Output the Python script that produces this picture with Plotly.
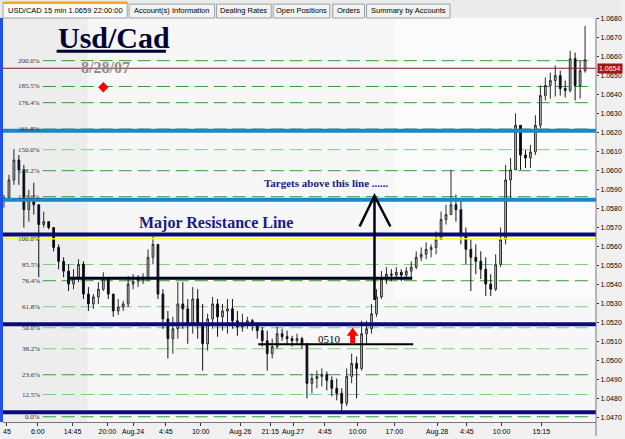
import plotly.graph_objects as go

# ---------------- data ----------------
first_open = 1.05846
high = [
    1.05873, 1.05978, 1.06114, 1.06082, 1.06030, 1.05899, 1.05936, 1.05820, 1.05784, 1.05731,
    1.05663, 1.05611, 1.05543, 1.05506, 1.05480, 1.05533, 1.05522, 1.05386, 1.05349, 1.05412,
    1.05464, 1.05438, 1.05349, 1.05323, 1.05313, 1.05444, 1.05454, 1.05449, 1.05459, 1.05585,
    1.05653, 1.05506, 1.05375, 1.05260, 1.05229, 1.05412, 1.05412, 1.05323, 1.05386, 1.05375,
    1.05297, 1.05245, 1.05334, 1.05323, 1.05297, 1.05323, 1.05323, 1.05260, 1.05245, 1.05229,
    1.05218, 1.05187, 1.05176, 1.05156, 1.05114, 1.05176, 1.05166, 1.05156, 1.05129, 1.05140,
    1.05124, 1.05087, 1.04930, 1.04946, 1.04957, 1.04941, 1.04915, 1.04904, 1.04852, 1.04957,
    1.05035, 1.05019, 1.05208, 1.05208, 1.05297, 1.05375, 1.05470, 1.05491, 1.05480, 1.05491,
    1.05480, 1.05491, 1.05522, 1.05574, 1.05595, 1.05622, 1.05611, 1.05679, 1.05784, 1.05820,
    1.06004, 1.05873, 1.05846, 1.05700, 1.05637, 1.05611, 1.05574, 1.05543, 1.05454, 1.05559,
    1.05700, 1.06030, 1.06067, 1.06302, 1.06213, 1.06108, 1.06135, 1.06292, 1.06449, 1.06491,
    1.06517, 1.06554, 1.06527, 1.06475, 1.06632, 1.06622, 1.06580, 1.06763]
low = [
    1.05805, 1.05846, 1.05925, 1.05925, 1.05700, 1.05731, 1.05768, 1.05438, 1.05700, 1.05690,
    1.05574, 1.05480, 1.05438, 1.05365, 1.05375, 1.05412, 1.05323, 1.05260, 1.05271, 1.05297,
    1.05365, 1.05323, 1.05229, 1.05239, 1.05260, 1.05281, 1.05375, 1.05386, 1.05402, 1.05417,
    1.05506, 1.05323, 1.05166, 1.05009, 1.05035, 1.05114, 1.05166, 1.05087, 1.05140, 1.05114,
    1.04946, 1.05051, 1.05166, 1.05124, 1.05156, 1.05140, 1.05166, 1.05129, 1.05150, 1.05166,
    1.05156, 1.05114, 1.05072, 1.04946, 1.05009, 1.05061, 1.05103, 1.05082, 1.05072, 1.05087,
    1.05061, 1.04799, 1.04826, 1.04852, 1.04862, 1.04841, 1.04810, 1.04789, 1.04716, 1.04758,
    1.04878, 1.04799, 1.04946, 1.05087, 1.05140, 1.05229, 1.05323, 1.05402, 1.05417, 1.05428,
    1.05417, 1.05428, 1.05438, 1.05480, 1.05522, 1.05533, 1.05543, 1.05559, 1.05637, 1.05716,
    1.05768, 1.05731, 1.05611, 1.05506, 1.05365, 1.05454, 1.05428, 1.05339, 1.05339, 1.05365,
    1.05491, 1.05611, 1.05846, 1.06046, 1.06004, 1.06014, 1.06014, 1.06082, 1.06224, 1.06370,
    1.06380, 1.06391, 1.06396, 1.06386, 1.06412, 1.06370, 1.06380, 1.06517]
close = [
    1.05857, 1.05951, 1.06056, 1.06004, 1.05794, 1.05846, 1.05820, 1.05716, 1.05731, 1.05700,
    1.05595, 1.05522, 1.05470, 1.05402, 1.05438, 1.05506, 1.05349, 1.05297, 1.05334, 1.05375,
    1.05428, 1.05349, 1.05260, 1.05281, 1.05297, 1.05402, 1.05417, 1.05428, 1.05438, 1.05543,
    1.05611, 1.05349, 1.05218, 1.05114, 1.05166, 1.05297, 1.05271, 1.05192, 1.05323, 1.05192,
    1.05087, 1.05218, 1.05297, 1.05229, 1.05260, 1.05271, 1.05208, 1.05176, 1.05192, 1.05208,
    1.05187, 1.05156, 1.05103, 1.05035, 1.05072, 1.05140, 1.05124, 1.05114, 1.05103, 1.05114,
    1.05087, 1.04878, 1.04904, 1.04915, 1.04925, 1.04894, 1.04852, 1.04826, 1.04773, 1.04915,
    1.04983, 1.04957, 1.05140, 1.05166, 1.05245, 1.05334, 1.05428, 1.05454, 1.05449, 1.05464,
    1.05449, 1.05470, 1.05491, 1.05543, 1.05559, 1.05585, 1.05595, 1.05637, 1.05742, 1.05768,
    1.05820, 1.05794, 1.05663, 1.05585, 1.05543, 1.05522, 1.05480, 1.05402, 1.05375, 1.05506,
    1.05637, 1.05951, 1.06004, 1.06239, 1.06082, 1.06067, 1.06098, 1.06239, 1.06396, 1.06449,
    1.06475, 1.06501, 1.06433, 1.06423, 1.06590, 1.06449, 1.06527, 1.06585]
bar_index = list(range(len(close)))

x_tick_labels = ["45", "6:00", "14:45", "20:00", "Aug.24", "4:45", "10:00", "Aug.26",
                 "21:15", "Aug.27", "4:45", "10:00", "17:00", "Aug.28", "4:45", "10:00", "15:15"]
x_tick_pos = [0.6, 6.8, 13.8, 20.8, 26.0, 32.6, 39.6, 47.6, 53.6, 58.2, 64.6, 71.2,
              78.6, 87.2, 93.2, 100.2, 108.2]

fib_labels = ["0.0%", "12.5%", "23.6%", "38.2%", "50.0%", "61.8%", "76.4%", "85.5%",
              "100.0%", "123.6%", "138.2%", "150.0%", "161.8%", "176.4%", "185.5%", "200.0%"]
fib_ratios = [0.0, 0.125, 0.236, 0.382, 0.5, 0.618, 0.764, 0.855,
              1.0, 1.236, 1.382, 1.5, 1.618, 1.764, 1.855, 2.0]
fib_dark = [True, False, True, False, False, False, True, False,
            False, True, True, False, False, True, True, True]
fib_low, fib_high = 1.04702, 1.05641

light_blue_levels = [1.06211, 1.05846]
navy_levels = [1.05663, 1.05190, 1.04726]
current_price = 1.0654
signal_index = [20]
signal_price = [1.0644]

open_ = [first_open] + close[:-1]
high_c = [max(h, o, c) for h, o, c in zip(high, open_, close)]
low_c = [min(l, o, c) for l, o, c in zip(low, open_, close)]

# ---------------- geometry helpers (pixels -> paper) ----------------
W, H = 625, 439
PL, PR, PT, PB = 3, 600, 18, 425
def px(x): return (x - PL) / (PR - PL)
def py(y): return (PB - y) / (PB - PT)

fig = go.Figure()
fig.add_trace(go.Candlestick(
    x=bar_index, open=open_, high=high_c, low=low_c, close=close,
    increasing=dict(line=dict(color="#2a2a2a", width=1), fillcolor="#cfcfcf"),
    decreasing=dict(line=dict(color="#111111", width=1), fillcolor="#000033"),
    whiskerwidth=0, showlegend=False, hoverinfo="skip"))
fig.add_trace(go.Scatter(x=signal_index, y=signal_price, mode="markers",
                         marker=dict(symbol="diamond", size=8, color="#ff0000"),
                         showlegend=False, hoverinfo="skip"))

shapes = []
ann = []
# backgrounds
shapes.append(dict(type="rect", xref="paper", yref="paper", x0=px(0), x1=px(625),
                   y0=py(0), y1=py(18), fillcolor="#ebebeb", line_width=0, layer="below"))
shapes.append(dict(type="rect", xref="paper", yref="paper", x0=px(3), x1=px(88),
                   y0=0, y1=1, fillcolor="#ededed", line_width=0, layer="below"))
shapes.append(dict(type="rect", xref="paper", yref="paper", x0=px(397), x1=px(600),
                   y0=py(300), y1=1, fillcolor="#fbfbfb", line_width=0, layer="below"))
shapes.append(dict(type="rect", xref="paper", yref="paper", x0=px(0), x1=px(3),
                   y0=py(425), y1=py(18), fillcolor="#1f4fe6", line_width=0, layer="above"))

# fib lines + labels
for lab, r, dk in zip(fib_labels, fib_ratios, fib_dark):
    lvl = fib_low + r * (fib_high - fib_low)
    if lab == "100.0%":
        shapes.append(dict(type="line", xref="paper", yref="y", x0=0, x1=1, y0=lvl, y1=lvl,
                           line=dict(color="#ffff33", width=1.5), layer="above"))
    else:
        shapes.append(dict(type="line", xref="paper", yref="y", x0=px(43), x1=px(597),
                           y0=lvl, y1=lvl, layer="below",
                           line=dict(color="#2f9e2f" if dk else "#80cc80", width=1,
                                     dash="13px,6px")))
    ann.append(dict(xref="paper", yref="y", x=px(42), y=lvl, text=lab, showarrow=False,
                    xanchor="right", yanchor="middle",
                    font=dict(family="Liberation Serif", size=7, color="#333333")))

# current price line
shapes.append(dict(type="line", xref="paper", yref="y", x0=0, x1=1, y0=current_price,
                   y1=current_price, line=dict(color="#8b1a1a", width=1), layer="above"))
for lvl in light_blue_levels:
    shapes.append(dict(type="line", xref="paper", yref="y", x0=0, x1=1, y0=lvl, y1=lvl,
                       line=dict(color="#1a87cc", width=4), layer="above"))
for lvl in navy_levels:
    shapes.append(dict(type="line", xref="paper", yref="y", x0=0, x1=1, y0=lvl, y1=lvl,
                       line=dict(color="#0b0b78", width=4), layer="above"))
# black support lines
shapes.append(dict(type="line", xref="paper", yref="y", x0=px(70), x1=px(415),
                   y0=1.05433, y1=1.05433, line=dict(color="#000022", width=3), layer="above"))
shapes.append(dict(type="line", xref="paper", yref="y", x0=px(260), x1=px(416),
                   y0=1.05084, y1=1.05084, line=dict(color="#000000", width=2), layer="above"))
# big arrow
shapes.append(dict(type="line", xref="paper", yref="paper", x0=px(377), x1=px(377),
                   y0=py(302), y1=py(198), line=dict(color="#000011", width=2.5), layer="above"))
shapes.append(dict(type="path", xref="paper", yref="paper",
                   path=f"M {px(362)},{py(228)} L {px(377)},{py(197)} L {px(393)},{py(228)}",
                   line=dict(color="#000011", width=2.5), layer="above"))
# red arrow
pts = [(355, 330), (361, 338), (357.5, 338), (357.5, 346), (352.5, 346), (352.5, 338), (349, 338)]
path = "M " + " L ".join(f"{px(a)},{py(b)}" for a, b in pts) + " Z"
shapes.append(dict(type="path", xref="paper", yref="paper", path=path,
                   fillcolor="#ff0000", line=dict(width=0), layer="above"))
# title underline
shapes.append(dict(type="line", xref="paper", yref="paper", x0=px(57), x1=px(167),
                   y0=py(51.5), y1=py(51.5), line=dict(color="#000033", width=3), layer="above"))
# right axis line extended
shapes.append(dict(type="line", xref="paper", yref="paper", x0=1, x1=1, y0=py(439), y1=1,
                   line=dict(color="#777777", width=1), layer="above"))

# tabs
tabs = [("USD/CAD 15 min 1.0659 22:00:00", 3, 128, True),
        ("Account(s) Information", 130, 216, False),
        ("Dealing Rates", 218, 273, False),
        ("Open Positions", 275, 332, False),
        ("Orders", 335, 367, False),
        ("Summary by Accounts", 369, 453, False)]
for txt, a, b, act in tabs:
    top = 2 if act else 4
    shapes.append(dict(type="rect", xref="paper", yref="paper", x0=px(a), x1=px(b),
                       y0=py(18), y1=py(top), fillcolor="#fbfbfb" if act else "#f2f2ee",
                       line=dict(color="#9aa0a6", width=1), layer="below"))
    if act:
        shapes.append(dict(type="rect", xref="paper", yref="paper", x0=px(a), x1=px(b),
                           y0=py(top + 2), y1=py(top), fillcolor="#f5a623",
                           line_width=0, layer="above"))
    ann.append(dict(xref="paper", yref="paper", x=px((a + b) / 2), y=py(10.5), text=txt,
                    showarrow=False, xanchor="center", yanchor="middle",
                    font=dict(family="Liberation Sans", size=7.5, color="#000000")))

# texts
ann.append(dict(xref="paper", yref="paper", x=px(56), y=py(38), text="<b>Usd/Cad</b>",
                showarrow=False, xanchor="left", yanchor="middle",
                font=dict(family="Liberation Serif", size=30, color="#000033")))
ann.append(dict(xref="paper", yref="paper", x=px(80), y=py(68), text="<b>8/28/07</b>",
                showarrow=False, xanchor="left", yanchor="middle",
                font=dict(family="Liberation Serif", size=16, color="#8c8c8c")))
ann.append(dict(xref="paper", yref="paper", x=px(138), y=py(225),
                text="<b>Major Resistance Line</b>", showarrow=False, xanchor="left",
                yanchor="middle", font=dict(family="Liberation Serif", size=16, color="#1a1a8a")))
ann.append(dict(xref="paper", yref="paper", x=px(264), y=py(184),
                text="<b>Targets above this line ......</b>", showarrow=False, xanchor="left",
                yanchor="middle", font=dict(family="Liberation Serif", size=11, color="#1a1a8a")))
ann.append(dict(xref="paper", yref="paper", x=px(318), y=py(341), text="0510",
                showarrow=False, xanchor="left", yanchor="middle",
                font=dict(family="Liberation Serif", size=11, color="#000000")))
ann.append(dict(xref="paper", yref="y", x=1.002, y=current_price, text="1.0654",
                showarrow=False, xanchor="left", yanchor="middle", bgcolor="#a31515",
                borderpad=1, font=dict(family="Liberation Sans", size=7, color="#ffffff")))

fig.update_layout(
    width=W, height=H, margin=dict(l=PL, r=W - PR, t=PT, b=H - PB),
    paper_bgcolor="#f0f0f0", plot_bgcolor="#f7f7f7", boxgap=0.5,
    shapes=shapes, annotations=ann, showlegend=False,
    xaxis=dict(range=[-0.2, 119.2], showgrid=False, zeroline=False, rangeslider=dict(visible=False),
               tickvals=x_tick_pos, ticktext=x_tick_labels, ticks="outside", ticklen=3,
               tickcolor="#333333", showline=True, linecolor="#777777",
               tickfont=dict(family="Liberation Sans", size=7, color="#000000")),
    yaxis=dict(range=[1.046744, 1.06805], side="right", showgrid=False, zeroline=False,
               tick0=1.047, dtick=0.001, tickformat=".4f", ticks="outside", ticklen=2,
               tickcolor="#333333", showline=False,
               tickfont=dict(family="Liberation Sans", size=7, color="#000000")),
)
fig.write_html("out.html")
